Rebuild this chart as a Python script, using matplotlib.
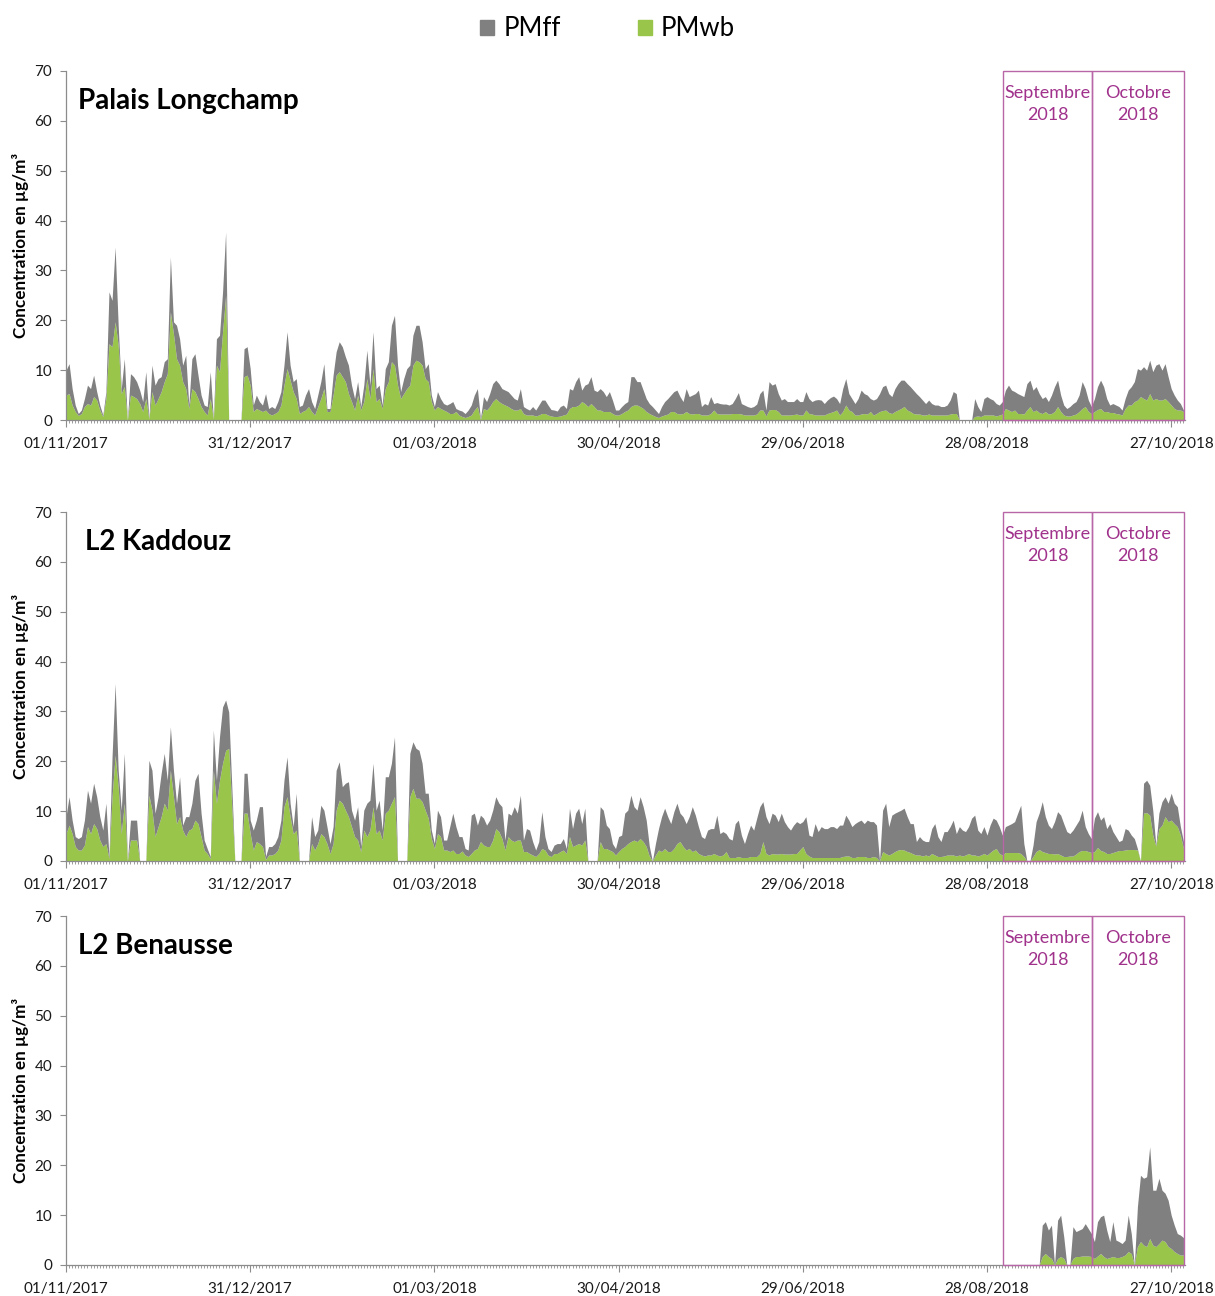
import numpy as np
import pandas as pd
import matplotlib
matplotlib.use("Agg")
import matplotlib.pyplot as plt
from matplotlib.patches import Rectangle, Patch

plt.rcParams['font.family'] = ['Lato', 'DejaVu Sans']

# Daily dates, 01/11/2017 -> 31/10/2018
dates = pd.date_range("2017-11-01", "2018-10-31", freq="D")

# Palais Longchamp : total (PMff + PMwb) and PMwb, µg/m3, one value per day
pl_tot = [
    10, 11.3, 6.3, 3, 1.3, 2, 4.3, 7, 6.3, 9,
    5.7, 3, 1, 5.7, 25.7, 24, 34.7, 19, 6.3, 12.3,
    0, 9.3, 8.7, 7.7, 6, 3.7, 9.7, 0.3, 11, 7,
    8.3, 8.7, 11.7, 12.3, 32.7, 19.7, 19, 16.3, 11, 13,
    3, 12.3, 13.3, 9, 5, 3, 2.7, 9.7, 0.3, 16.3,
    17, 25.7, 37.7, 0, 0, 0, 0, 0, 14.3, 14.7,
    10.3, 3, 5, 3.7, 3, 5.3, 2.3, 2.7, 2.3, 3.7,
    5.7, 11, 17.7, 11, 7.7, 8.3, 2.7, 3, 5, 6.3,
    3.7, 2.3, 5, 7.7, 11.3, 2.3, 2.3, 9, 13.7, 15.7,
    14.7, 12.7, 11, 7, 4.3, 7.7, 2.7, 7, 14, 7,
    17.7, 6.3, 7, 3, 10.3, 11.7, 19, 21, 11, 5.7,
    8.3, 10.3, 11, 17, 19, 19, 15.7, 10.3, 11.3, 5,
    2.7, 5.7, 4.3, 3.3, 3, 3.3, 3.7, 2.3, 2, 1.8,
    1.3, 2, 3, 5, 6.3, 0.3, 4.7, 3.7, 5.3, 7.3,
    8, 7.3, 6.3, 6, 5.7, 5, 4.3, 4, 6.3, 2.7,
    2.3, 2, 2.7, 2, 3, 4, 4, 3, 2.1, 2,
    1.8, 2.7, 3, 2.3, 6.3, 6, 7.7, 8.7, 6, 7,
    7.3, 8.7, 6, 5.7, 6.3, 5.7, 4.7, 5.7, 4, 2,
    2, 2.7, 3.3, 3.7, 8.7, 8.7, 7.7, 7.7, 6, 4.3,
    3.3, 2.7, 2, 1.3, 2.7, 3.7, 4.3, 5, 5.7, 6,
    4.7, 3.7, 6.3, 4.7, 5, 5.3, 6, 2.7, 3.3, 3,
    4.7, 3.3, 3.5, 3.3, 3.2, 3.2, 3, 3.3, 4.3, 5.5,
    3.3, 3, 2.7, 2.5, 2.7, 3.2, 5.3, 6, 2, 7.7,
    7, 7.3, 5.3, 4, 4.3, 3.7, 3.7, 3.7, 4.3, 3.7,
    3.7, 5.7, 4.3, 3.7, 4, 4.1, 4, 3.3, 4, 4.5,
    4.8, 4.3, 3.3, 6.3, 8.3, 5.3, 4.3, 3.3, 4.3, 6,
    5.3, 5, 4.3, 4, 4.3, 5.3, 6.7, 7, 5.3, 4.7,
    6.3, 7.3, 8, 8, 7.3, 6.7, 6, 5.3, 4.7, 4,
    3.3, 4, 3.3, 3, 3, 2.7, 2.7, 3, 4, 5.7,
    5.3, 0, 0, 0, 0, 0, 4.3, 2.7, 1.7, 4.3,
    4.7, 4.3, 4, 3.3, 3, 3.7, 6, 7, 6, 5.7,
    5.3, 5, 4.7, 7.3, 8, 6, 6.7, 5.3, 4.3, 4.7,
    3.7, 5, 6.7, 8, 5, 3, 2.3, 2.7, 3.3, 3.7,
    5, 7.7, 6.3, 4, 2.7, 4.3, 6.7, 8, 6.7, 4.3,
    3, 3.3, 3, 2.7, 2, 4.3, 6, 6.7, 7.7, 10.3,
    10, 10.7, 10, 12, 9.7, 11, 11.3, 10, 11.3, 8.7,
    6.3, 5, 4, 3.3, 2,
]
pl_wb = [
    5, 5.3, 3, 1.7, 0.9, 1.3, 2.7, 3.3, 3, 4.7,
    4, 2, 0.7, 4.3, 15.3, 14.7, 19.7, 15, 5.3, 6.7,
    0, 5, 4.7, 4.3, 3.3, 1.7, 4.3, 0.2, 5.7, 3,
    4.3, 5.7, 7.7, 9.3, 21.7, 17.3, 12.3, 11, 7.7, 6.3,
    2.3, 6.3, 5.7, 4.3, 2.7, 1.7, 1, 4.3, 0.2, 11,
    9.7, 17.7, 25, 0, 0, 0, 0, 0, 8.7, 9,
    7, 1.7, 2.3, 2, 1.7, 2, 1.3, 1, 1.3, 1.7,
    3, 7, 10.3, 8, 5.7, 4.3, 1.3, 1.7, 2, 2.7,
    1.7, 1, 2.7, 4.3, 6.3, 1.7, 1.7, 5, 9, 9.7,
    8.7, 7.7, 5.3, 3.7, 2, 5, 2, 3.7, 8.3, 4.3,
    10.3, 3.7, 4.3, 2.3, 6.3, 7.7, 11.7, 11, 7, 4.3,
    5.3, 6.3, 7, 11, 12, 11.7, 11, 8.3, 7.7, 3.7,
    2, 2.7, 2.3, 2, 1.7, 1.3, 1.3, 1.7, 1, 0.7,
    0.5, 0.7, 1, 2, 2.7, 0.1, 2.3, 2, 2.7, 3.7,
    4.3, 3.7, 3.3, 3, 2.7, 2.3, 2, 2, 2.3, 1.3,
    1, 1, 1, 0.8, 1, 1.3, 1.3, 1, 0.8, 0.7,
    0.7, 0.8, 1, 1.2, 2.3, 2.7, 2.7, 3, 3.7, 3.3,
    2.7, 3.3, 2.7, 2, 2, 1.7, 1.7, 1.7, 1.3, 1,
    1, 1.3, 1.7, 2, 2.7, 3, 3, 2.7, 2.3, 1.7,
    1.3, 1, 0.7, 0.5, 0.8, 1, 1.2, 1.7, 1.7, 1.3,
    1.2, 1.3, 1.7, 1.3, 1.2, 1.3, 1.3, 1, 1, 1,
    1.3, 2, 1.3, 1.2, 1.2, 1.2, 1.2, 1.3, 1.3, 1.3,
    1.2, 1, 1, 1, 1, 1.2, 2, 2, 0.8, 2,
    2.1, 2.1, 1.7, 1, 1, 1, 1, 1.1, 1.2, 1,
    1, 2, 1.3, 1.2, 1, 1, 1, 1, 1.3, 1.5,
    1.7, 2, 1, 1.7, 3, 2, 1.7, 1, 1, 1.2,
    1.3, 1.2, 1.7, 1, 1.3, 1.7, 1.9, 2, 1.5, 1.3,
    1.7, 2, 2.3, 2.7, 2, 1.7, 1.3, 1.2, 1.2, 1,
    1, 1.2, 1, 1, 1, 1, 1, 1, 1.2, 1.3,
    1.3, 0, 0, 0, 0, 0, 0.7, 0.8, 0.7, 1,
    1, 1, 1, 0.8, 1, 1.2, 2.3, 2, 1.7, 2,
    1.3, 1.3, 1.2, 2, 2.7, 1.7, 2, 1.5, 1.3, 1.7,
    1.2, 1.3, 1.7, 2.7, 1.7, 1, 0.8, 0.8, 1, 1.2,
    1.7, 2.3, 2.7, 1.7, 1.3, 1.7, 2.1, 2.3, 1.7, 1.7,
    1.5, 1.5, 1.3, 1.2, 1, 2.3, 3, 3, 3.7, 4,
    4.7, 4.3, 4, 5.3, 4, 4.3, 4, 4, 4.3, 3.7,
    3, 2.3, 2, 2, 1.7,
]

# L2 Kaddouz
kd_tot = [
    8.9, 12.9, 8.2, 4.9, 4.5, 4.9, 8.2, 14.2, 11.6, 15.6,
    12.9, 8.9, 6.2, 11.6, 0.9, 20.9, 35.6, 18.2, 10.2, 21.6,
    0, 8.2, 8.2, 8.2, 0, 0, 0, 20.2, 18.2, 9.6,
    12.9, 17.6, 21.6, 16.2, 26.9, 18.2, 11.6, 16.9, 7.2, 8.9,
    8.9, 11.6, 16.2, 17.6, 9.6, 4.2, 2.5, 0.9, 26.3, 16.2,
    24.9, 30.9, 32.3, 29.9, 15, 0, 0, 0, 17.6, 17.6,
    8.2, 6.2, 8.2, 10.9, 10.9, 0.9, 2.9, 2.9, 3.5, 4.9,
    8.2, 16.2, 20.9, 11.6, 6.9, 13.6, 0, 0, 0, 0,
    8.9, 4.9, 6.2, 11.2, 10.2, 6.9, 3.5, 6.9, 18.2, 19.9,
    14.9, 15.6, 15.9, 10.2, 8.2, 10.9, 2.9, 10.2, 11.6, 12.2,
    19.6, 10.2, 12.2, 6.2, 16.9, 16.9, 19.6, 24.9, 0, 0,
    0, 0, 21.6, 23.9, 22.6, 22.2, 19.6, 13.6, 13.6, 6.2,
    3.5, 10.2, 8.9, 4.2, 4.2, 6.9, 9.6, 6.9, 4.9, 4.9,
    2.5, 2.2, 9.2, 9.6, 7.2, 9.2, 8.6, 7.2, 8.2, 10.2,
    12.9, 11.6, 10.9, 4.2, 9.6, 9.2, 10.9, 9.6, 13.2, 4.2,
    6.5, 6.2, 3.9, 2.2, 3.9, 9.9, 4.9, 2.5, 1.9, 3.2,
    3.5, 3.5, 4.5, 2.5, 10.6, 6.5, 9.6, 10.6, 7.5, 10.6,
    0, 0, 0, 0, 10.9, 10.2, 7.2, 6.5, 3.5, 2.5,
    4.9, 5.2, 9.6, 10.2, 13.2, 10.9, 10.2, 12.9, 10.9, 8.2,
    3, 0, 3.5, 6.5, 8.9, 10.6, 8.9, 7.5, 9.9, 11.6,
    9.6, 8.9, 7.5, 8.9, 10.9, 9.2, 6.9, 4.9, 4.5, 6.2,
    6.5, 6.5, 9.2, 5.5, 5.9, 5.5, 4.5, 4.2, 7.5, 8.2,
    5.2, 3.5, 5.5, 7.2, 6.2, 8.6, 10.9, 11.9, 8.9, 7.5,
    9.6, 9.2, 7.9, 9.6, 7.9, 6.9, 6.2, 7.2, 7.9, 7.5,
    7.9, 8.9, 5.2, 4.9, 7.5, 5.9, 6.9, 6.5, 6.5, 6.9,
    6.9, 6.5, 7.2, 7.2, 9.2, 8.2, 6.9, 7.5, 7.9, 8.2,
    7.5, 8.2, 7.9, 7.9, 7.2, 0, 10.2, 11.6, 6.9, 9.2,
    9.6, 9.9, 10.2, 10.6, 8.9, 7.5, 7.5, 3.9, 4.9, 4.2,
    3.9, 3.9, 6.5, 7.5, 4.9, 3.9, 5.9, 5.9, 6.9, 8.2,
    5.5, 6.9, 6.2, 5.9, 6.9, 8.6, 9.2, 6.2, 5.5, 6.9,
    5.2, 7.2, 8.6, 8.2, 6.9, 5.2, 6.9, 7.2, 7.5, 7.9,
    9.6, 11.2, 3.5, 0, 0, 3.2, 7.9, 9.6, 11.9, 8.9,
    7.2, 6.5, 7.9, 9.9, 9.2, 7.5, 5.9, 5.5, 6.2, 7.2,
    8.2, 10.2, 6.9, 5.5, 4.5, 8.6, 9.9, 8.2, 8.9, 6.5,
    7.5, 5.9, 4.9, 3.9, 4.2, 6.5, 6.2, 5.2, 4.5, 2.5,
    0, 15.6, 16.2, 15.2, 10.2, 3.2, 9.6, 11.9, 12.9, 11.6,
    13.6, 11.6, 10.9, 6.9, 3.9,
]
kd_wb = [
    5.5, 7.2, 5.5, 2.9, 2.2, 2.2, 3.2, 6.9, 5.5, 7.5,
    6.5, 4.2, 2.9, 3.5, 0.5, 12.9, 21.2, 14.9, 5.5, 11.6,
    0, 4.2, 4.2, 4.2, 0, 0, 0, 13.2, 10.2, 4.9,
    6.9, 8.9, 11.6, 10.2, 18.2, 12.9, 7.5, 8.9, 6.2, 4.9,
    6.2, 6.5, 8.2, 7.5, 4.9, 2.2, 1.5, 0.5, 18.2, 11.6,
    16.2, 19.6, 22.2, 22.6, 11, 0, 0, 0, 9.6, 9.6,
    5.5, 2.2, 3.9, 3.5, 2.9, 0.3, 1.2, 1.2, 1.5, 2.2,
    4.2, 10.9, 12.9, 8.9, 5.5, 6.2, 0, 0, 0, 0,
    3.5, 2.2, 3.5, 5.5, 4.9, 3.5, 1.5, 3.5, 10.2, 12.2,
    11.6, 10.2, 8.9, 6.9, 4.9, 4.2, 1.9, 6.2, 4.9, 6.2,
    10.9, 5.5, 6.2, 4.2, 9.6, 10.2, 11.6, 12.9, 0, 0,
    0, 0, 12.9, 14.6, 12.6, 12.6, 11.9, 10.2, 8.6, 4.5,
    2.5, 5.5, 4.9, 2.2, 2.2, 1.9, 2.2, 1.5, 1.5, 2,
    1.2, 0.9, 1.5, 2.2, 2.5, 3.9, 3.2, 2.9, 2.9, 4.2,
    6.5, 5.9, 4.5, 2.2, 4.9, 4.2, 3.9, 4.2, 4.2, 1.9,
    1.9, 1.5, 1.2, 0.9, 1.5, 2.5, 2.2, 1.2, 0.9, 1.5,
    1.5, 1.9, 2.2, 1.5, 4.9, 2.9, 3.2, 3.5, 3.2, 4.2,
    0, 0, 0, 0, 3.9, 2.5, 2.5, 2.2, 1.9, 1.2,
    1.9, 2.5, 2.9, 3.5, 3.9, 4.2, 3.9, 4.5, 3.9, 2.9,
    1, 0, 1.2, 2.2, 1.9, 2.5, 1.9, 1.9, 2.5, 3.5,
    3.9, 2.9, 2.2, 2.5, 1.9, 2.2, 1.5, 1.2, 1, 1.2,
    1.2, 1.5, 1.2, 1, 1.2, 1.9, 0.7, 0.7, 0.7, 0.9,
    0.7, 0.7, 0.7, 0.9, 0.9, 0.9, 1.5, 3.9, 1.5, 1.2,
    1.5, 1.4, 1.4, 1.5, 1.4, 1.4, 1.4, 1.5, 1.5, 2.2,
    2.9, 1.5, 1, 0.7, 0.7, 0.7, 0.7, 0.7, 0.7, 0.7,
    0.7, 0.7, 0.7, 0.9, 1, 1, 0.7, 0.7, 0.9, 0.9,
    0.9, 0.7, 0.7, 0.9, 0.7, 0, 1.9, 1.5, 1.2, 1.5,
    1.9, 2.2, 2.3, 2.2, 1.9, 1.7, 1.4, 1.2, 1.2, 1,
    1.2, 1, 1.5, 1.2, 0.9, 0.9, 1, 1.2, 1.2, 1.2,
    1, 1.2, 1, 1.2, 1.5, 1.2, 1.2, 1, 1.2, 1.5,
    1.2, 1.7, 2.2, 2.5, 1.5, 1.2, 1.7, 1.7, 1.7, 1.7,
    1.7, 1.5, 0.9, 0, 0, 0.9, 1.9, 2.3, 1.9, 1.7,
    1.5, 1.5, 1.4, 1.5, 1.2, 0.9, 0.9, 1, 1, 1.4,
    1.9, 2.1, 2.1, 1.9, 1.7, 1.9, 2.7, 2.1, 1.9, 1.5,
    1.5, 1.7, 1.9, 2.1, 2.1, 2.2, 2.3, 2.3, 2.3, 2.2,
    0, 9.6, 9.7, 9.2, 5.2, 3, 6.5, 7.2, 8.9, 7.9,
    8.2, 7.5, 6.9, 5.2, 2.5,
]

# L2 Benausse : measurements only from 14/09/2018 (day 317), nothing before
bn_first_day = 317
bn_tot = [0, 8, 8.7, 7, 8, 0, 9, 10, 5.7, 0,
          0, 7.7, 6.7, 7, 7.3, 8.3, 7.3, 6.3, 4.7, 8.7,
          9.7, 10, 7, 4.7, 8.7, 5, 4.7, 4.3, 5, 10,
          6.3, 0, 11.7, 18, 17.4, 17.7, 23.7, 15, 15, 17.4,
          15, 14.4, 13, 10, 8, 6.3, 6, 5.5]
bn_wb = [0, 1.7, 2.3, 1.7, 1.3, 0, 1.3, 1.7, 1.3, 0,
         0, 1.3, 1.7, 1.7, 1.8, 1.8, 1.8, 1.7, 1.3, 1.8,
         2.3, 1.7, 1.3, 1.5, 1.7, 1.5, 1.5, 1.7, 2, 2.7,
         2.3, 0, 3.7, 4.7, 4, 3.7, 5.3, 4, 3.7, 4.3,
         5, 4.7, 3.7, 3.3, 2.7, 2.3, 2, 2]

stations = ["Palais Longchamp", "L2 Kaddouz", "L2 Benausse"]
months = ["Septembre\n2018", "Octobre\n2018"]
month_edges = [305.3, 334.3, 364.3]   # day positions of the month boxes

GREY = "#808080"
GREEN = "#99c64a"
PURPLE = "#a0328c"
BOX = "#b866a8"
AXIS = "#8c8c8c"

n = len(dates)
x = np.arange(n)
pad = np.zeros(bn_first_day)
series = [
    (np.array(pl_tot), np.array(pl_wb)),
    (np.array(kd_tot), np.array(kd_wb)),
    (np.concatenate([pad, bn_tot]), np.concatenate([pad, bn_wb])),
]
for tot, wb in series:
    assert len(tot) == n and len(wb) == n, (len(tot), len(wb))

fig = plt.figure(figsize=(12.15, 12.96), dpi=100)

# axes boxes in pixels of the 1215x1296 picture
W, H = 1215.0, 1296.0
tops = [71, 512, 916]
bottoms = [420, 861, 1265]
title_x = [78, 85, 78]

major = np.arange(0, n, 60)
labels = [d.strftime("%d/%m/%Y") for d in dates[major]]

for i, (tot, wb) in enumerate(series):
    ax = fig.add_axes([66 / W, 1 - bottoms[i] / H, (1185 - 66) / W, (bottoms[i] - tops[i]) / H])
    ax.fill_between(x, 0, wb, color=GREEN, linewidth=0)
    ax.fill_between(x, wb, tot, color=GREY, linewidth=0)

    ax.set_xlim(0, 364.5)
    ax.set_ylim(0, 70)
    ax.set_yticks(np.arange(0, 71, 10))
    ax.set_xticks(major)
    ax.set_xticklabels(labels)
    ax.set_xticks(x, minor=True)

    for s in ["top", "right"]:
        ax.spines[s].set_visible(False)
    for s in ["left", "bottom"]:
        ax.spines[s].set_color(AXIS)
        ax.spines[s].set_linewidth(0.9)
    ax.tick_params(axis="both", which="major", color=AXIS, labelsize=11,
                   labelcolor="#1a1a1a", direction="out")
    ax.tick_params(axis="x", which="major", length=5, pad=7)
    ax.tick_params(axis="y", which="major", length=4, pad=6)
    ax.tick_params(axis="x", which="minor", length=2.5, color=AXIS, width=0.6)

    ax.set_ylabel("Concentration en µg/m³", fontsize=12.3, fontweight="bold")
    ax.yaxis.set_label_coords(-37 / 1119, 0.5)

    ax.text((title_x[i] - 66) / 1119, 0.915, stations[i], transform=ax.transAxes,
            fontsize=20, fontweight="bold", ha="left", va="center")

    # month boxes
    for k in range(2):
        x0, x1 = month_edges[k], month_edges[k + 1]
        ax.add_patch(Rectangle((x0, 0), x1 - x0, 70, fill=False, edgecolor=BOX,
                               linewidth=1.0, clip_on=False, zorder=3))
        ax.text((x0 + x1) / 2, 63.3, months[k], ha="center", va="center",
                fontsize=13, color=PURPLE, linespacing=1.45)

handles = [Patch(color=GREY, label="PMff"), Patch(color=GREEN, label="PMwb")]
fig.legend(handles=handles, loc="center", bbox_to_anchor=(0.5, 1 - 29 / H), ncol=2,
           frameon=False, fontsize=18.5, handlelength=0.55, handleheight=0.55,
           handletextpad=0.35, columnspacing=3.0)

fig.savefig("out.png", dpi=100)
